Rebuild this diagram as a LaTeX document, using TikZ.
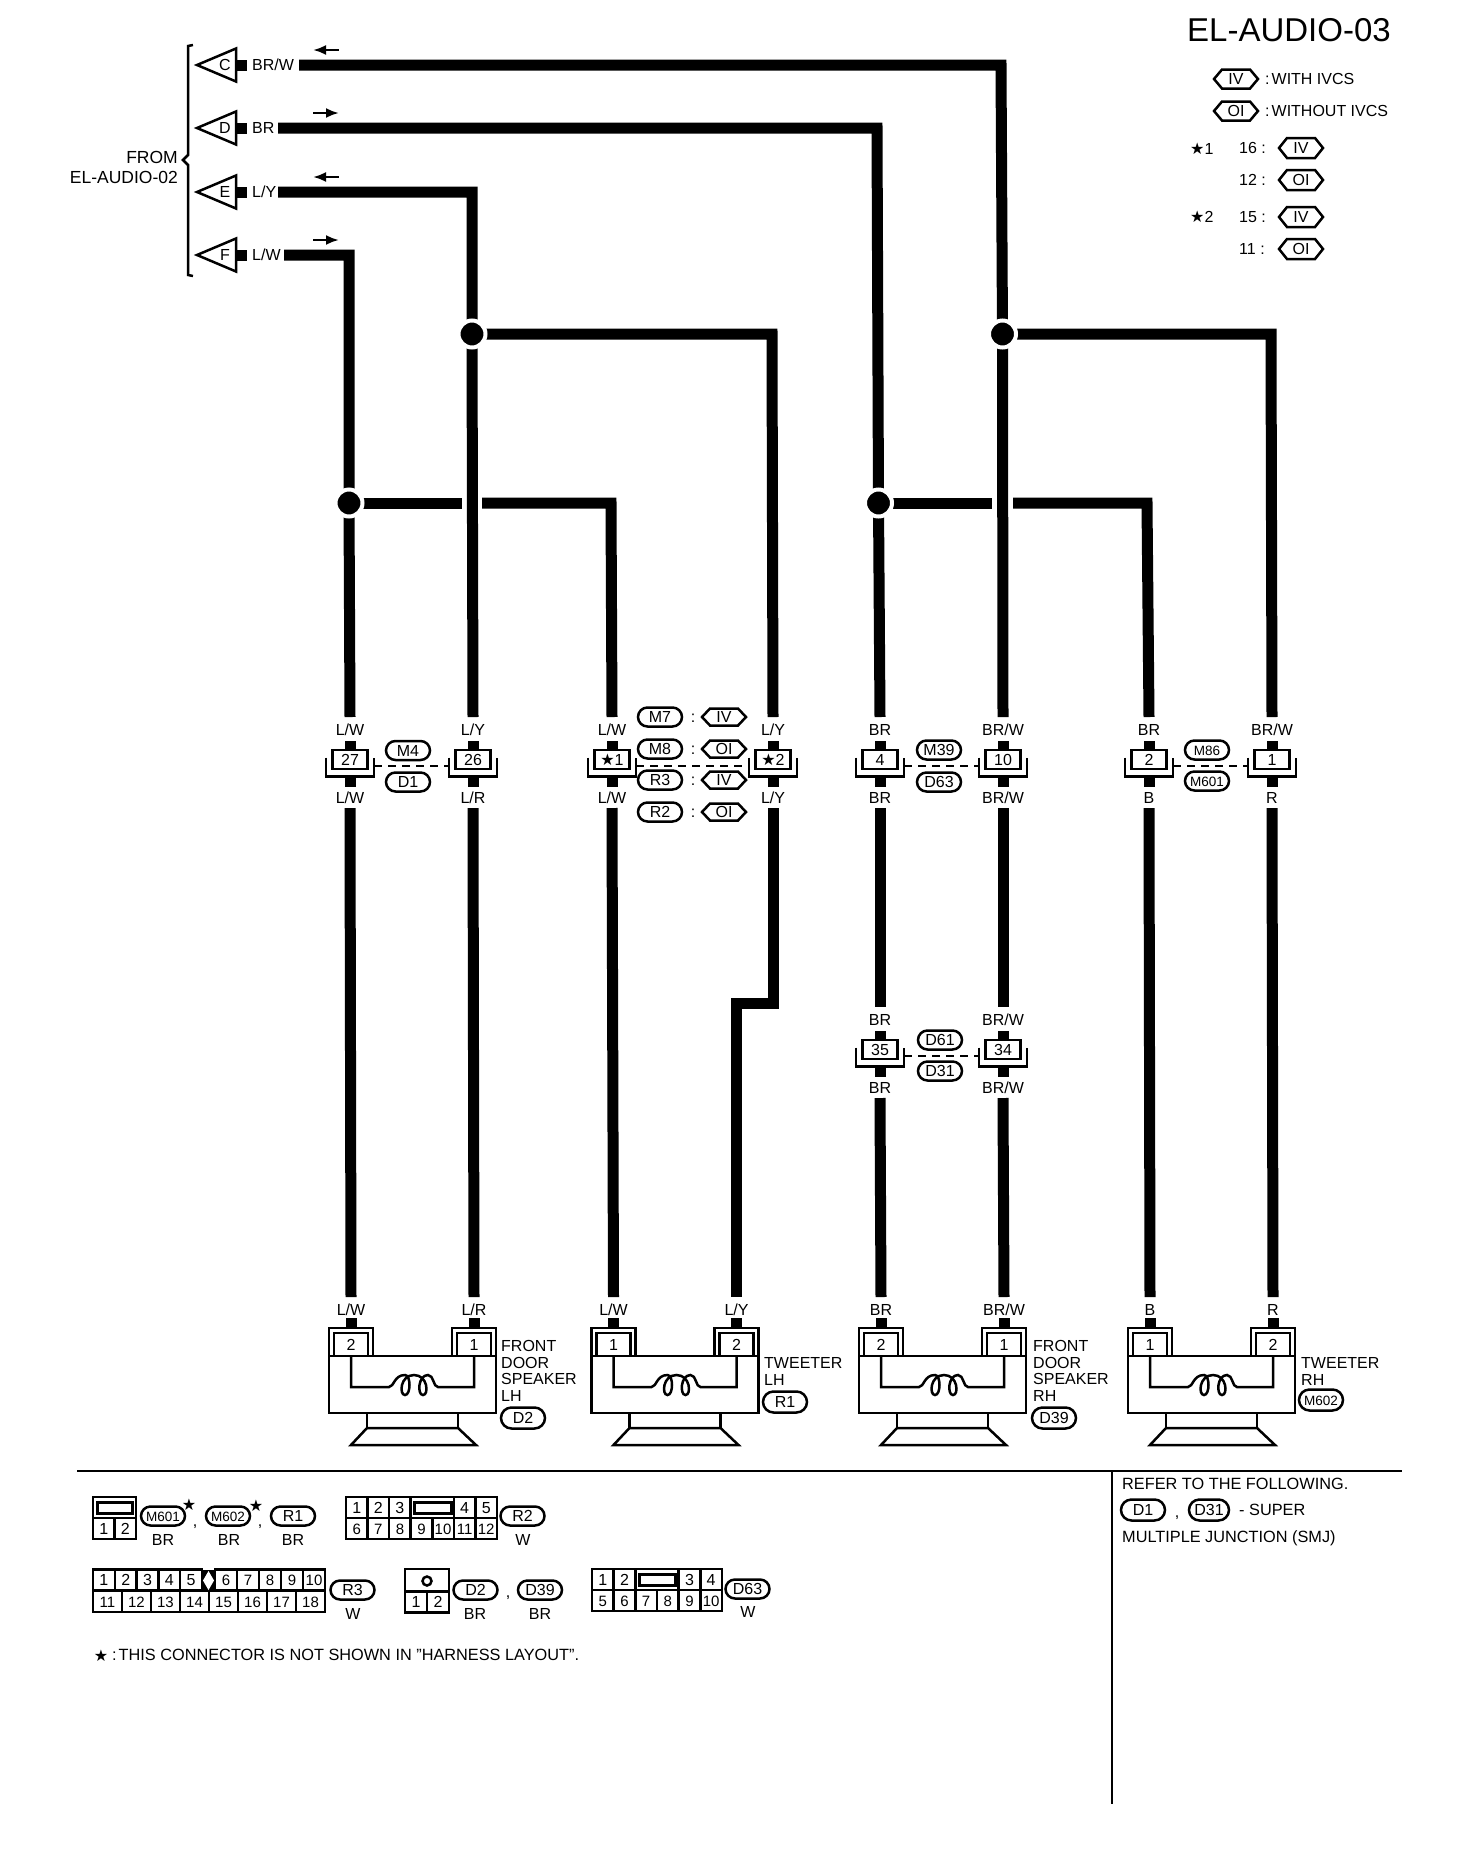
\documentclass[tikz,border=0pt]{standalone}
\usepackage{fontspec}
\setmainfont{Liberation Sans}
\newfontfamily\starfont{DejaVu Sans}
\usetikzlibrary{arrows.meta,shapes.misc}

\tikzset{
    wire/.style={line width=11pt},
    outline/.style={line width=2.5pt},
    lbl/.style={font=\fontsize{16}{18}\selectfont, inner sep=0pt, text height=11.5pt, text depth=0pt},
    lbllines/.style={font=\fontsize{16}{16.8}\selectfont, inner sep=0pt, align=left, anchor=north west},
    pillbox/.style={lbl, draw, line width=2.5pt, rounded rectangle, minimum width=44pt, minimum height=19pt},
    tinytext/.style={font=\fontsize{13.5}{15}\selectfont},
    jointbox/.style={lbl, draw, line width=2.5pt, fill=white, minimum width=35pt, minimum height=19pt},
    juncdot/.style={circle, fill=black, draw=white, line width=4pt, minimum size=27pt, inner sep=0pt},
    cell/.style={lbl, draw, line width=2.5pt, inner sep=0pt, minimum height=21pt},
    dashlink/.style={line width=2.5pt, dash pattern=on 8pt off 6pt},
    flow/.style={line width=2.5pt, >={Latex[length=13pt,width=10pt]}},
}

% harness end: name, y, letter, colour, wire start x, arrow
\newcommand{\harness}[6]{
    \draw[outline] (197,#2) -- (236,#2-16.5) -- (236,#2+16.5) -- cycle;
    \node[lbl] (#1-let) at (225,#2) {#3};
    \draw[wire] (236,#2) -- (247,#2);
    \node[lbl, anchor=west] (#1-col) at (252,#2) {#4};
    \coordinate (#1) at (#5,#2);
    \coordinate (#1-p) at (313,#2-15);
    \coordinate (#1-q) at (339,#2-15);
    \draw[flow,#6] (#1-p) -- (#1-q);
}

% hexagon tag: name, x, y, text, half height
\newcommand{\hexa}[5]{
    \node[lbl] (#1) at (#2,#3) {#4};
    \draw[outline] (#2-22,#3) -- (#2-14,#3-#5) -- (#2+14,#3-#5) -- (#2+22,#3)
        -- (#2+14,#3+#5) -- (#2-14,#3+#5) -- cycle;
}

% inline connector: name, x, y of box, number, upper colour, lower colour
\newcommand{\joint}[6]{
    \begin{scope}[shift={(#2,#3)}]
        \draw[wire] (0,-17.5) -- (0,-8);
        \draw[wire] (0,17) -- (0,28.5);
        \draw[outline] (-24,-1) -- (-24,18) -- (24,18) -- (24,-1);
        \node[jointbox] (#1) at (0,1) {#4};
        \node[lbl] (#1-up) at (0,-28.5) {#5};
        \node[lbl] (#1-lo) at (0,39.5) {#6};
        \coordinate (#1-t) at (0,-41.5);
        \coordinate (#1-b) at (0,49.5);
        \coordinate (#1-l) at (-24,7.5);
        \coordinate (#1-r) at (24,7.5);
    \end{scope}
}

% speaker terminal: name, x, number, colour
\newcommand{\spterm}[4]{
    \begin{scope}[xshift=#2pt]
        \draw[wire] (0,1318) -- (0,1328);
        \draw[outline] (-22,1356) -- (-22,1328) -- (22,1328) -- (22,1356);
        \draw[outline] (-17,1356) -- (-17,1333) -- (17,1333) -- (17,1356);
        \node[lbl] (#1-num) at (0,1345) {#3};
        \node[lbl] (#1-col) at (0,1310) {#4};
        \coordinate (#1) at (0,1297);
    \end{scope}
}

% speaker: name, left x, number a, colour a, number b, colour b
\newcommand{\speaker}[6]{
    \begin{scope}[xshift=#2pt]
        \draw[outline] (0,1356) rectangle (167,1413);
        \draw[outline] (38,1413) rectangle (129,1428);
        \draw[outline] (38,1428) -- (22,1445) -- (147,1445) -- (129,1428) -- cycle;
        \draw[outline] (22,1356) -- (22,1387) -- (60,1387)
            .. controls (65,1387) and (65,1375) .. (76,1375)
            .. controls (82,1375) and (82,1395) .. (76,1395)
            .. controls (70,1395) and (71,1375) .. (85,1375)
            .. controls (99,1375) and (100,1395) .. (94,1395)
            .. controls (88,1395) and (89,1375) .. (99,1375)
            .. controls (105,1375) and (104,1387) .. (109,1387)
            -- (145,1387) -- (145,1356);
    \end{scope}
    \spterm{#1-a}{#2+22}{#3}{#4}
    \spterm{#1-b}{#2+145}{#5}{#6}
}

\begin{document}
\begin{tikzpicture}[x=1pt,y=-1pt]
    \useasboundingbox (0,0) rectangle (1472,1864);

    % Title and legend
    \node[lbl, font=\fontsize{33}{35}\selectfont, text height=23.5pt, anchor=west] (title) at (1187,30) {EL-AUDIO-03};
    \hexa{keyIV}{1236}{79}{IV}{9.5}
    \hexa{keyOI}{1236}{111}{OI}{9.5}
    \node[lbl, anchor=west] (keyIVt) at (1265,79) {:\kern2pt WITH IVCS};
    \node[lbl, anchor=west] (keyOIt) at (1265,111) {:\kern2pt WITHOUT IVCS};
    \node[lbl, anchor=west] (starA) at (1190,149) {{\starfont★}1};
    \node[lbl, anchor=west] (pinA) at (1239,148) {16 :};
    \node[lbl, anchor=west] (pinB) at (1239,180) {12 :};
    \node[lbl, anchor=west] (starB) at (1190,217) {{\starfont★}2};
    \node[lbl, anchor=west] (pinC) at (1239,217) {15 :};
    \node[lbl, anchor=west] (pinD) at (1239,249) {11 :};
    \hexa{hexA}{1301}{148}{IV}{10}
    \hexa{hexB}{1301}{180}{OI}{10}
    \hexa{hexC}{1301}{217}{IV}{10}
    \hexa{hexD}{1301}{249}{OI}{10}

    % From brace
    \draw[outline] (193,45) -- (188,46) -- (188,155) -- (183,160) -- (188,165) -- (188,275) -- (193,276);
    \node[lbl, font=\fontsize{17.5}{19}\selectfont, text height=12.5pt, anchor=east] (fromA) at (178,157) {FROM};
    \node[lbl, font=\fontsize{17.5}{19}\selectfont, text height=12.5pt, anchor=east] (fromB) at (178,177) {EL-AUDIO-02};

    % Harness ends
    \harness{wC}{65}{C}{BR/W}{299}{<-}
    \harness{wD}{128}{D}{BR}{278}{->}
    \harness{wE}{192}{E}{L/Y}{278}{<-}
    \harness{wF}{255}{F}{L/W}{284}{->}

    % Inline connectors
    \joint{cA}{350}{758.5}{27}{L/W}{L/W}
    \joint{cB}{473}{758.5}{26}{L/Y}{L/R}
    \joint{cC}{612}{758.5}{{\starfont★}1}{L/W}{L/W}
    \joint{cD}{773}{758.5}{{\starfont★}2}{L/Y}{L/Y}
    \joint{cE}{880}{758.5}{4}{BR}{BR}
    \joint{cF}{1003}{758.5}{10}{BR/W}{BR/W}
    \joint{cG}{1149}{758.5}{2}{BR}{B}
    \joint{cH}{1272}{758.5}{1}{BR/W}{R}
    \joint{cI}{880}{1048.5}{35}{BR}{BR}
    \joint{cJ}{1003}{1048.5}{34}{BR/W}{BR/W}

    % Connector links
    \draw[dashlink] (cA-r) -- (cB-l);
    \draw[dashlink] (cC-r) -- (cD-l);
    \draw[dashlink] (cE-r) -- (cF-l);
    \draw[dashlink] (cG-r) -- (cH-l);
    \draw[dashlink] (cI-r) -- (cJ-l);

    % Connector tags
    \node[pillbox] (tM4) at (408,750.5) {M4};
    \node[pillbox] (tD1) at (408,782) {D1};
    \node[pillbox] (tM7) at (660,717) {M7};
    \node[pillbox] (tM8) at (660,749) {M8};
    \node[pillbox] (tR3) at (660,780) {R3};
    \node[pillbox] (tR2) at (660,812) {R2};
    \node[lbl] (colA) at (693,717) {:};
    \node[lbl] (colB) at (693,749) {:};
    \node[lbl] (colC) at (693,780) {:};
    \node[lbl] (colD) at (693,812) {:};
    \hexa{hIV}{724}{717}{IV}{8.5}
    \hexa{hOI}{724}{749}{OI}{8.5}
    \hexa{hIVb}{724}{780}{IV}{8.5}
    \hexa{hOIb}{724}{812}{OI}{8.5}
    \node[pillbox] (tM39) at (939,750) {M39};
    \node[pillbox] (tD63) at (939,782) {D63};
    \node[pillbox, tinytext] (tM86) at (1207,750) {M86};
    \node[pillbox, tinytext] (tM601) at (1207,781) {M601};
    \node[pillbox] (tD61) at (940,1040) {D61};
    \node[pillbox] (tD31) at (940,1071) {D31};

    % Speakers
    \speaker{sA}{329}{2}{L/W}{1}{L/R}
    \speaker{sB}{591.5}{1}{L/W}{2}{L/Y}
    \speaker{sC}{859}{2}{BR}{1}{BR/W}
    \speaker{sD}{1128}{1}{B}{2}{R}
    \node[lbllines] (sAt) at (501,1340) {FRONT\\DOOR\\SPEAKER\\LH};
    \node[lbllines] (sBt) at (764,1357) {TWEETER\\LH};
    \node[lbllines] (sCt) at (1033,1340) {FRONT\\DOOR\\SPEAKER\\RH};
    \node[lbllines] (sDt) at (1301,1357) {TWEETER\\RH};
    \node[pillbox, minimum height=21pt] (tD2) at (523,1418) {D2};
    \node[pillbox, minimum height=21pt] (tR1) at (785,1402) {R1};
    \node[pillbox, minimum height=21pt] (tD39) at (1054,1418) {D39};
    \node[pillbox, minimum height=21pt, tinytext] (tM602) at (1321,1400) {M602};

    % Junction points
    \coordinate (jE) at (472,334);
    \coordinate (jF) at (349,503);
    \coordinate (jC) at (1002.5,334);
    \coordinate (jD) at (878.5,503);
    \coordinate (kF) at (349,255);
    \coordinate (kE) at (472,192);
    \coordinate (kD) at (877,128);
    \coordinate (kC) at (1001,65);
    \coordinate (kEb) at (772,334);
    \coordinate (kCb) at (1271,334);
    \coordinate (kFb) at (611,503);
    \coordinate (kDb) at (1147,503);
    \coordinate (gapFa) at (462,503);
    \coordinate (gapFb) at (482,503);
    \coordinate (gapDa) at (992,503);
    \coordinate (gapDb) at (1013,503);
    \coordinate (jogA) at (773,1003);
    \coordinate (jogB) at (736.5,1003);

    % Wires
    \draw[wire] (wF) -- (kF) -- (jF) -- (cA-t);
    \draw[wire] (wE) -- (kE) -- (jE) -- (cB-t);
    \draw[wire] (wD) -- (kD) -- (jD) -- (cE-t);
    \draw[wire] (wC) -- (kC) -- (jC) -- (cF-t);
    \draw[wire] (jE) -- (kEb) -- (cD-t);
    \draw[wire] (jC) -- (kCb) -- (cH-t);
    \draw[wire] (jF) -- (gapFa);
    \draw[wire] (gapFb) -- (kFb) -- (cC-t);
    \draw[wire] (jD) -- (gapDa);
    \draw[wire] (gapDb) -- (kDb) -- (cG-t);
    \draw[wire] (cA-b) -- (sA-a);
    \draw[wire] (cB-b) -- (sA-b);
    \draw[wire] (cC-b) -- (sB-a);
    \draw[wire] (cD-b) -- (jogA) -- (jogB) -- (sB-b);
    \draw[wire] (cE-b) -- (cI-t);
    \draw[wire] (cF-b) -- (cJ-t);
    \draw[wire] (cI-b) -- (sC-a);
    \draw[wire] (cJ-b) -- (sC-b);
    \draw[wire] (cG-b) -- (sD-a);
    \draw[wire] (cH-b) -- (sD-b);

    % Junction dots
    \node[juncdot] (dotE) at (jE) {};
    \node[juncdot] (dotF) at (jF) {};
    \node[juncdot] (dotC) at (jC) {};
    \node[juncdot] (dotD) at (jD) {};

    % Rules
    \coordinate (ruleA) at (77,1471);
    \coordinate (ruleB) at (1402,1471);
    \coordinate (ruleC) at (1112,1471);
    \coordinate (ruleD) at (1112,1804);
    \draw[outline] (ruleA) -- (ruleB);
    \draw[outline] (ruleC) -- (ruleD);

    % Connector faces, first row
    \draw[line width=2.5pt] (93,1497) rectangle (136,1518);
    \draw[line width=3pt] (97,1502) rectangle (132,1513);
    \node[cell, minimum width=21.5pt] (faA) at (103.75,1528.5) {1};
    \node[cell, minimum width=21.5pt] (faB) at (125.25,1528.5) {2};
    \node[pillbox, tinytext] (fM601) at (163,1516) {M601};
    \node[lbl] (fsA) at (189,1505) {\starfont★};
    \node[lbl] (fcA) at (195,1521) {,};
    \node[pillbox, tinytext] (fM602) at (228,1516) {M602};
    \node[lbl] (fsB) at (256,1506) {\starfont★};
    \node[lbl] (fcB) at (260,1521) {,};
    \node[pillbox] (fR1) at (293,1516) {R1};
    \node[lbl] (fbA) at (163,1540) {BR};
    \node[lbl] (fbB) at (229,1540) {BR};
    \node[lbl] (fbC) at (293,1540) {BR};

    \foreach \n/\i in {1/0,2/1,3/2,4/5,5/6}
        \node[cell, minimum width=21.57pt] (fbt\n) at ({356.8+21.57*\i},1507.5) {\n};
    \foreach \n/\i in {6/0,7/1,8/2,9/3,10/4,11/5,12/6}
        \node[cell, minimum width=21.57pt, font=\fontsize{15}{17}\selectfont] (fbb\n) at ({356.8+21.57*\i},1528.5) {\n};
    \draw[line width=2.5pt] (346,1497) -- (497,1497);
    \draw[line width=3pt] (414,1502) rectangle (451,1513);
    \node[pillbox] (fR2) at (522.5,1516) {R2};
    \node[lbl] (fbW) at (523,1540) {W};

    % Connector faces, second row
    \foreach \n/\i in {1/0,2/1,3/2,4/3,5/4}
        \node[cell, minimum width=21.8pt] (fct\n) at ({103.9+21.8*\i},1580) {\n};
    \foreach \n/\i in {6/0,7/1,8/2,9/3,10/4}
        \node[cell, minimum width=22pt, font=\fontsize{15}{17}\selectfont] (fct\n) at ({226+22*\i},1580) {\n};
    \foreach \n/\i in {11/0,12/1,13/2,14/3,15/4,16/5,17/6,18/7}
        \node[cell, minimum width=29pt, font=\fontsize{15}{17}\selectfont] (fcb\n) at ({107.5+29*\i},1601.5) {\n};
    \fill (202,1569.5) rectangle (215,1591);
    \fill[white] (208.5,1571) -- (214,1580.5) -- (208.5,1590) -- (203,1580.5) -- cycle;
    \node[pillbox] (fR3) at (352.5,1590) {R3};
    \node[lbl] (fcW) at (353,1614) {W};

    \draw[line width=2.5pt] (405,1569) rectangle (449,1591);
    \node[draw, circle, line width=2.5pt, minimum size=9pt, inner sep=0pt] (fdC) at (427,1581) {};
    \node[cell, minimum width=22pt] (fdA) at (416,1602) {1};
    \node[cell, minimum width=22pt] (fdB) at (438,1602) {2};
    \node[pillbox] (fD2) at (475.5,1590) {D2};
    \node[lbl] (fcC) at (508,1592) {,};
    \node[pillbox] (fD39) at (540,1590) {D39};
    \node[lbl] (fdbA) at (475,1614) {BR};
    \node[lbl] (fdbB) at (540,1614) {BR};

    \foreach \n/\i in {1/0,2/1,3/4,4/5}
        \node[cell, minimum width=21.67pt] (fet\n) at ({602.8+21.67*\i},1579.5) {\n};
    \foreach \n/\i in {5/0,6/1,7/2,8/3,9/4,10/5}
        \node[cell, minimum width=21.67pt, font=\fontsize{15}{17}\selectfont] (feb\n) at ({602.8+21.67*\i},1600.5) {\n};
    \draw[line width=2.5pt] (592,1569) -- (722,1569);
    \draw[line width=3pt] (639,1574) rectangle (675,1585);
    \node[pillbox] (fD63) at (747.5,1589) {D63};
    \node[lbl] (feW) at (748,1612) {W};

    % Foot note
    \node[lbl] (noteS) at (101,1656) {\starfont★};
    \node[lbl, font=\fontsize{16.3}{18}\selectfont, anchor=west] (noteT) at (112,1655) {:\kern2pt THIS CONNECTOR IS NOT SHOWN IN "HARNESS LAYOUT".};

    % Reference panel
    \node[lbl, font=\fontsize{16.3}{18}\selectfont, anchor=west] (refA) at (1122,1484) {REFER TO THE FOLLOWING.};
    \node[pillbox, minimum height=21pt] (refD1) at (1143,1510) {D1};
    \node[lbl] (refC) at (1177,1512) {,};
    \node[pillbox, minimum height=21pt, minimum width=40pt] (refD31) at (1209,1510) {D31};
    \node[lbl, font=\fontsize{16.3}{18}\selectfont, anchor=west] (refB) at (1239,1510) {- SUPER};
    \node[lbl, font=\fontsize{16.3}{18}\selectfont, anchor=west] (refE) at (1122,1537) {MULTIPLE JUNCTION (SMJ)};
\end{tikzpicture}
\end{document}
